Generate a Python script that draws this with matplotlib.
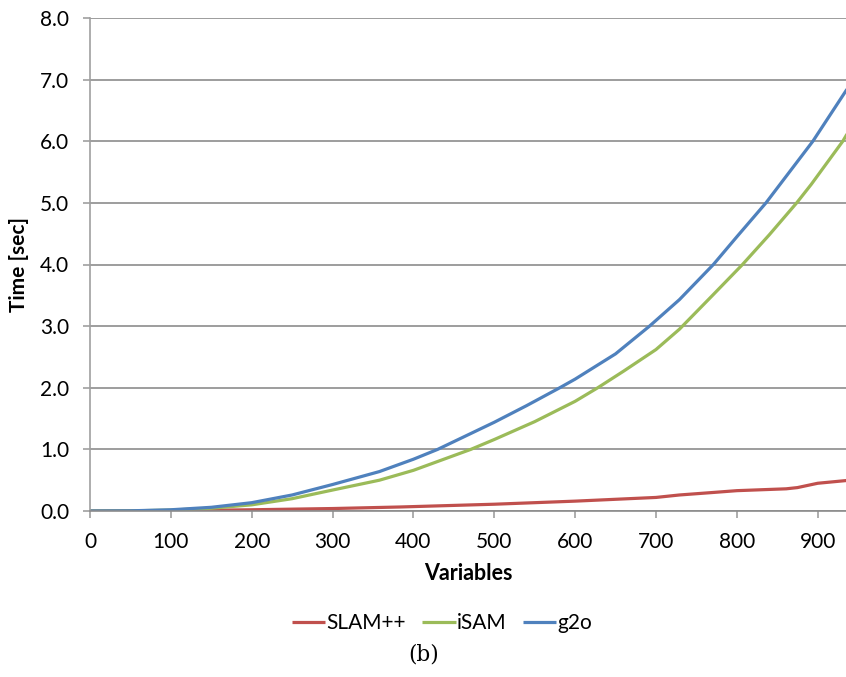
import numpy as np
import matplotlib
matplotlib.use("Agg")
from matplotlib import pyplot as plt

# values
slam_x = [0, 100, 200, 300, 383, 500, 600, 700, 729, 770, 800, 861, 875, 900, 940]
slam_y = [0, 0.005, 0.02, 0.04, 0.065, 0.11, 0.16, 0.22, 0.26, 0.30, 0.33, 0.36, 0.38, 0.45, 0.5]

isam_x = [0, 50, 100, 150, 200, 250, 300, 358, 400, 471, 500, 550, 600, 628, 660, 700,
          729, 770, 807, 840, 874, 892, 931, 940]
isam_y = [0, 0.002, 0.015, 0.045, 0.10, 0.20, 0.34, 0.50, 0.66, 1.0, 1.16, 1.45, 1.78,
          2.0, 2.27, 2.62, 2.95, 3.5, 4.0, 4.48, 5.0, 5.3, 6.0, 6.2]

g2o_x = [0, 50, 100, 150, 200, 250, 300, 358, 400, 430, 500, 540, 581, 600, 650, 692,
         729, 771, 800, 836, 894, 940]
g2o_y = [0, 0.003, 0.02, 0.06, 0.135, 0.26, 0.43, 0.64, 0.84, 1.0, 1.44, 1.71, 2.0,
         2.14, 2.55, 3.0, 3.43, 4.0, 4.45, 5.0, 6.0, 6.92]

labels = ["SLAM++", "iSAM", "g2o"]
colors = ["#C0504D", "#9BBB59", "#4F81BD"]
yticks = np.arange(0, 8.5, 1.0)
xticks = np.arange(0, 901, 100)

plt.rcParams['font.family'] = ['Lato', 'DejaVu Sans']

fig = plt.figure(figsize=(8.46, 6.77), dpi=100)
ax = fig.add_axes([90 / 846, 1 - 511 / 677, 1 - 90 / 846, (511 - 18) / 677])

for xs, ys, lab, col in zip([slam_x, isam_x, g2o_x], [slam_y, isam_y, g2o_y], labels, colors):
    ax.plot(xs, ys, color=col, lw=2.3, label=lab, solid_capstyle='butt')

ax.set_xlim(0, 935)
ax.set_ylim(0, 8.0)
ax.set_yticks(yticks)
ax.set_yticklabels(["%.1f" % v for v in yticks])
ax.set_xticks(xticks)
ax.yaxis.grid(True, color="#8c8c8c", lw=1.2)
ax.set_axisbelow(True)
for s in ["top", "right"]:
    ax.spines[s].set_visible(False)
ax.spines["left"].set_color("#a0a0a0")
ax.spines["bottom"].set_color("#8c8c8c")
ax.spines["left"].set_linewidth(1.2)
ax.spines["bottom"].set_linewidth(1.2)
ax.tick_params(axis="both", direction="out", length=5, width=1.2, color="#a0a0a0",
               labelsize=15)
ax.tick_params(axis="x", pad=10)
ax.tick_params(axis="y", pad=10)

ax.set_xlabel("Variables", fontsize=15.5, fontweight="bold", labelpad=8)
ax.set_ylabel("Time [sec]", fontsize=15, fontweight="bold", labelpad=8)

leg = fig.legend(loc="center", bbox_to_anchor=(442 / 846, 1 - 623 / 677), ncol=3,
                 frameon=False, fontsize=15, handlelength=1.6, handletextpad=0.05,
                 columnspacing=0.8)
fig.text(424 / 846, 1 - 655 / 677, "(b)", ha="center", va="center", fontsize=15.5,
         family=["DejaVu Serif"])

fig.savefig("out.png", dpi=100)
